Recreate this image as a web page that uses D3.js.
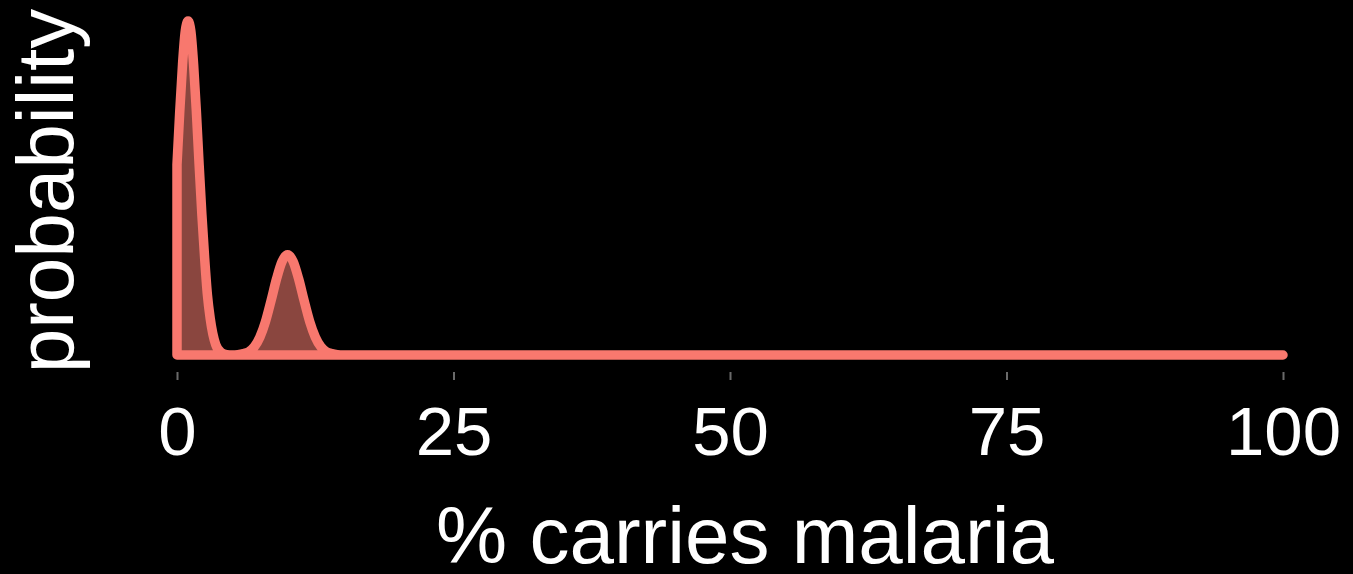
<!DOCTYPE html>
<html>
<head>
<meta charset="utf-8">
<script src="https://cdn.jsdelivr.net/npm/d3@7/dist/d3.min.js"></script>
<style>
  html, body { margin: 0; padding: 0; background: #000; }
  svg { display: block; }
  text { font-family: "Liberation Sans", Arial, Helvetica, sans-serif; fill: #fff; }
</style>
</head>
<body>
<svg id="chart" width="1353" height="574"></svg>
<script>
// Density estimate of the share of the population carrying malaria
const percent = [0, 0.25, 0.5, 0.75, 1, 1.25, 1.5, 1.75, 2, 2.25, 2.5, 2.75, 3, 3.5, 4, 4.5, 5, 5.5,
                 6, 6.5, 7, 7.5, 8, 8.5, 9, 9.5, 10, 10.5, 11, 11.5, 12, 12.5, 13, 13.5, 14, 14.5, 15, 100];
const density = [0.57, 0.73, 0.87, 0.97, 1.0, 0.97, 0.87, 0.73, 0.57, 0.42, 0.29, 0.18, 0.11, 0.031, 0.007, 0.001, 0, 0.001,
                 0.004, 0.010, 0.025, 0.054, 0.100, 0.162, 0.228, 0.280, 0.300, 0.280, 0.228, 0.162, 0.100, 0.054, 0.025, 0.010, 0.004, 0.001, 0, 0];
const xTicks = [0, 25, 50, 75, 100];
const xTitle = "% carries malaria";
const yTitle = "probability";

const points = percent.map((p, i) => ({ p, d: density[i] }));

const svg = d3.select("#chart");

const x = d3.scaleLinear().domain([0, 100]).range([177, 1283]);
const y = d3.scaleLinear().domain([0, 1]).range([355, 21]);

// filled density with outline
const area = d3.area()
  .x(d => x(d.p))
  .y0(y(0))
  .y1(d => y(d.d))
  .curve(d3.curveMonotoneX);

svg.append("path")
  .datum(points)
  .attr("d", area)
  .attr("fill", "#8a463f")
  .attr("stroke", "#f8786e")
  .attr("stroke-width", 9.5)
  .attr("stroke-linejoin", "round")
  .attr("stroke-linecap", "round");

// x axis: ticks and labels
const axis = d3.axisBottom(x)
  .tickValues(xTicks)
  .tickSize(8)
  .tickPadding(0)
  .tickFormat(d3.format("d"));

const gx = svg.append("g")
  .attr("transform", "translate(0,372)")
  .call(axis);

gx.select(".domain").remove();
gx.selectAll(".tick line")
  .attr("stroke", "#6a6a6a")
  .attr("stroke-width", 2);
gx.selectAll(".tick text")
  .attr("dy", null)
  .attr("y", 83)
  .attr("font-size", 69)
  .attr("fill", "#fff")
  .style("font-family", "'Liberation Sans', Arial, sans-serif");

// axis titles
svg.append("text")
  .attr("x", 745)
  .attr("y", 563)
  .attr("text-anchor", "middle")
  .attr("font-size", 80)
  .text(xTitle);

svg.append("text")
  .attr("transform", "translate(73,191) rotate(-90)")
  .attr("text-anchor", "middle")
  .attr("font-size", 80)
  .text(yTitle);
</script>
</body>
</html>
